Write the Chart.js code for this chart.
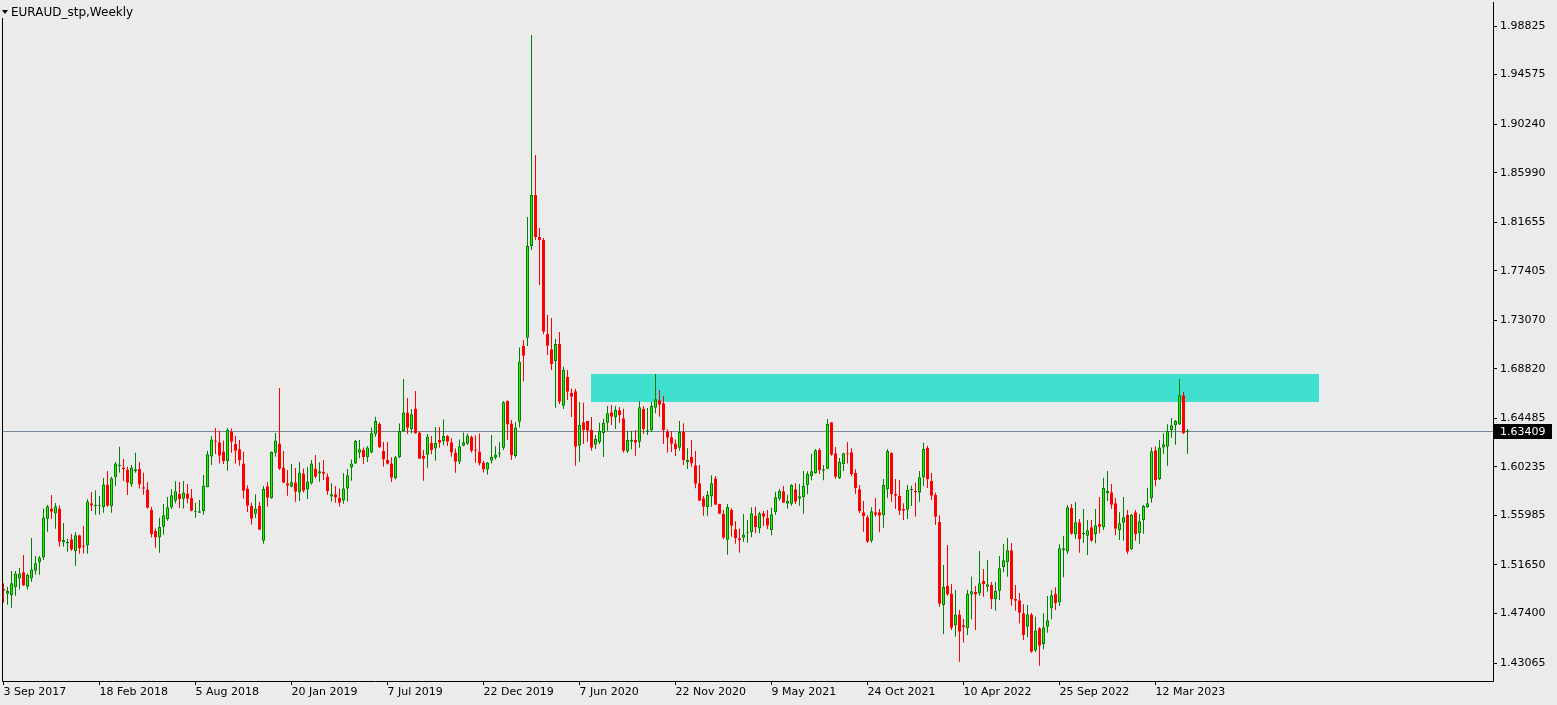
<!DOCTYPE html>
<html><head><meta charset="utf-8">
<script src="https://cdn.jsdelivr.net/npm/chart.js@4.4.0/dist/chart.umd.min.js"></script>
<style>html,body{margin:0;padding:0;background:#ebebeb;overflow:hidden}canvas{display:block}</style>
</head><body>
<canvas id="c" width="1557" height="705" style="width:1557px;height:705px"></canvas>
<script>
const chartTitle = 'EURAUD_stp,Weekly';
const open = [
1.4954,1.4913,1.4899,1.4969,1.5047,1.5100,1.4974,1.5047,1.5114,1.5187,
1.5231,1.5570,1.5660,1.5616,1.5660,1.5363,1.5354,1.5389,1.5284,1.5424,
1.5336,1.5336,1.5704,1.5681,1.5684,1.5669,1.5870,1.5678,1.5932,1.6031,
1.6019,1.5996,1.5870,1.5984,1.6005,1.5844,1.5826,1.5646,1.5462,1.5406,
1.5500,1.5564,1.5669,1.5727,1.5786,1.5745,1.5791,1.5751,1.5631,1.5622,
1.5637,1.5844,1.6115,1.6255,1.6238,1.6159,1.6072,1.6328,1.6223,1.6177,
1.6054,1.5835,1.5680,1.5613,1.5680,1.5377,1.5853,1.5748,1.6147,1.6229,
1.6019,1.5879,1.5850,1.5888,1.5800,1.5966,1.5826,1.5879,1.6010,1.5966,
1.5978,1.5940,1.5765,1.5783,1.5750,1.5730,1.5835,1.6019,1.6054,1.6147,
1.6171,1.6107,1.6150,1.6308,1.6398,1.6162,1.6083,1.6054,1.5923,1.6107,
1.6337,1.6500,1.6352,1.6535,1.6325,1.6118,1.6130,1.6235,1.6185,1.6258,
1.6247,1.6293,1.6238,1.6150,1.6068,1.6208,1.6226,1.6284,1.6176,1.6159,
1.6062,1.6001,1.6080,1.6103,1.6138,1.6191,1.6599,1.6404,1.6118,1.6418,
1.7081,1.7154,1.7957,1.8403,1.8035,1.8009,1.7186,1.7052,1.6950,1.7099,
1.6559,1.6810,1.6670,1.6685,1.6208,1.6413,1.6425,1.6346,1.6217,1.6241,
1.6320,1.6410,1.6501,1.6457,1.6518,1.6448,1.6159,1.6243,1.6258,1.6243,
1.6530,1.6331,1.6346,1.6541,1.6606,1.6580,1.6331,1.6282,1.6229,1.6191,
1.6328,1.6066,1.6110,1.6037,1.5879,1.5748,1.5673,1.5766,1.5921,1.5698,
1.5611,1.5386,1.5646,1.5477,1.5398,1.5403,1.5442,1.5454,1.5594,1.5485,
1.5617,1.5576,1.5471,1.5626,1.5745,1.5809,1.5701,1.5701,1.5827,1.5745,
1.5758,1.5862,1.5941,1.5967,1.6171,1.5990,1.6007,1.6413,1.6142,1.5923,
1.6049,1.6145,1.6151,1.5970,1.5827,1.5626,1.5582,1.5377,1.5626,1.5626,
1.5599,1.5827,1.6145,1.5786,1.5768,1.5655,1.5649,1.5818,1.5812,1.5797,
1.5933,1.6189,1.5899,1.5777,1.5541,1.4811,1.4983,1.4916,1.4636,1.4732,
1.4636,1.4610,1.4907,1.4928,1.4916,1.5024,1.4974,1.4989,1.4864,1.4939,
1.5144,1.5188,1.5293,1.4867,1.4855,1.4741,1.4624,1.4732,1.4417,1.4610,
1.4473,1.4624,1.4785,1.4910,1.4838,1.5293,1.5282,1.5663,1.5433,1.5538,
1.5433,1.5421,1.5495,1.5435,1.5523,1.5495,1.5792,1.5801,1.5704,1.5468,
1.5534,1.5602,1.5302,1.5626,1.5442,1.5556,1.5669,1.5748,1.6170,1.5915,
1.6194,1.6200,1.6346,1.6387,1.6394,1.6650,1.6326];
const high = [
1.5004,1.4974,1.5112,1.5112,1.5138,1.5252,1.5091,1.5400,1.5243,1.5243,
1.5660,1.5689,1.5777,1.5707,1.5686,1.5532,1.5395,1.5435,1.5453,1.5430,
1.5506,1.5739,1.5803,1.5818,1.5768,1.5926,1.5987,1.5937,1.6066,1.6200,
1.6092,1.6025,1.6040,1.6147,1.6066,1.5972,1.5891,1.5672,1.5485,1.5578,
1.5698,1.5759,1.5829,1.5897,1.5891,1.5899,1.5873,1.5829,1.5710,1.5733,
1.5952,1.6165,1.6293,1.6363,1.6340,1.6255,1.6363,1.6360,1.6293,1.6258,
1.6156,1.5861,1.5710,1.5783,1.5716,1.5856,1.5891,1.6159,1.6319,1.6713,
1.6162,1.5996,1.6048,1.6013,1.6066,1.6010,1.6022,1.6083,1.6127,1.6063,
1.6083,1.5966,1.5879,1.5856,1.5835,1.5967,1.6004,1.6089,1.6258,1.6258,
1.6194,1.6206,1.6369,1.6463,1.6413,1.6241,1.6241,1.6107,1.6118,1.6404,
1.6792,1.6626,1.6527,1.6687,1.6331,1.6171,1.6311,1.6293,1.6372,1.6372,
1.6439,1.6302,1.6273,1.6185,1.6264,1.6325,1.6316,1.6299,1.6299,1.6316,
1.6077,1.6065,1.6302,1.6205,1.6240,1.6599,1.6605,1.6433,1.6416,1.7069,
1.7133,1.8210,1.9804,1.8753,1.8114,1.8027,1.7353,1.7326,1.7143,1.7204,
1.6900,1.6871,1.6707,1.6707,1.6591,1.6585,1.6425,1.6460,1.6302,1.6410,
1.6445,1.6556,1.6565,1.6556,1.6547,1.6532,1.6340,1.6340,1.6346,1.6600,
1.6556,1.6538,1.6594,1.6836,1.6696,1.6644,1.6352,1.6337,1.6264,1.6425,
1.6405,1.6186,1.6258,1.6162,1.6040,1.5768,1.5812,1.5949,1.5943,1.5700,
1.5646,1.5698,1.5661,1.5547,1.5485,1.5611,1.5558,1.5670,1.5675,1.5631,
1.5637,1.5646,1.5666,1.5806,1.5827,1.5856,1.5779,1.5871,1.5879,1.5873,
1.5987,1.5984,1.6138,1.6179,1.6186,1.6040,1.6442,1.6413,1.6197,1.6100,
1.6147,1.6241,1.6186,1.6002,1.5864,1.5724,1.5602,1.5670,1.5751,1.5654,
1.5917,1.6180,1.6151,1.5917,1.5908,1.5704,1.5864,1.5858,1.5885,1.5987,
1.6235,1.6209,1.5972,1.5797,1.5599,1.5164,1.5339,1.4998,1.4945,1.4770,
1.4691,1.4945,1.5062,1.4980,1.5287,1.5129,1.5208,1.5015,1.5015,1.5243,
1.5348,1.5400,1.5357,1.4989,1.4919,1.4820,1.4814,1.4744,1.4712,1.4619,
1.4741,1.4893,1.4945,1.4969,1.5345,1.5418,1.5689,1.5698,1.5716,1.5567,
1.5655,1.5558,1.5558,1.5655,1.5759,1.5929,1.5987,1.5873,1.5751,1.5626,
1.5759,1.5646,1.5611,1.5646,1.5611,1.5689,1.5841,1.6194,1.6203,1.6258,
1.6317,1.6396,1.6451,1.6433,1.6792,1.6679,1.6355];
const low = [
1.4834,1.4817,1.4790,1.4896,1.4951,1.4983,1.4951,1.5018,1.5082,1.5079,
1.5208,1.5456,1.5567,1.5482,1.5325,1.5325,1.5281,1.5287,1.5158,1.5263,
1.5266,1.5263,1.5637,1.5605,1.5605,1.5622,1.5675,1.5622,1.5856,1.5975,
1.5899,1.5777,1.5850,1.5972,1.5835,1.5780,1.5657,1.5406,1.5316,1.5272,
1.5430,1.5552,1.5654,1.5704,1.5663,1.5660,1.5704,1.5634,1.5578,1.5619,
1.5605,1.5844,1.6040,1.6136,1.6054,1.6048,1.5990,1.6147,1.6054,1.6034,
1.5745,1.5628,1.5517,1.5575,1.5470,1.5351,1.5675,1.5745,1.6112,1.5996,
1.5882,1.5771,1.5844,1.5718,1.5724,1.5800,1.5742,1.5870,1.5923,1.5894,
1.5908,1.5780,1.5718,1.5710,1.5675,1.5700,1.5720,1.5902,1.6048,1.6098,
1.6048,1.6066,1.6142,1.6287,1.6191,1.6025,1.6045,1.5891,1.5914,1.6098,
1.6331,1.6311,1.6317,1.6314,1.6092,1.5902,1.6016,1.6133,1.6077,1.6191,
1.6212,1.6206,1.6112,1.5972,1.6048,1.6205,1.6214,1.6147,1.6060,1.6036,
1.5975,1.5957,1.6054,1.6089,1.6106,1.6171,1.6258,1.6083,1.6103,1.6369,
1.6774,1.7081,1.7922,1.8009,1.7615,1.7184,1.7002,1.6871,1.6541,1.6573,
1.6530,1.6609,1.6460,1.6033,1.6068,1.6223,1.6243,1.6165,1.6180,1.6223,
1.6110,1.6340,1.6390,1.6355,1.6410,1.6147,1.6145,1.6177,1.6121,1.6191,
1.6311,1.6302,1.6328,1.6492,1.6462,1.6223,1.6147,1.6153,1.6118,1.6165,
1.6040,1.6005,1.6025,1.5836,1.5724,1.5596,1.5596,1.5674,1.5690,1.5611,
1.5392,1.5254,1.5412,1.5350,1.5272,1.5368,1.5359,1.5407,1.5442,1.5442,
1.5505,1.5477,1.5424,1.5605,1.5730,1.5707,1.5657,1.5683,1.5698,1.5683,
1.5613,1.5783,1.5906,1.5964,1.5962,1.5906,1.6002,1.6121,1.5920,1.5918,
1.5987,1.6052,1.5941,1.5787,1.5617,1.5456,1.5359,1.5359,1.5587,1.5451,
1.5491,1.5753,1.5718,1.5655,1.5602,1.5558,1.5567,1.5680,1.5587,1.5718,
1.5853,1.5839,1.5733,1.5514,1.4799,1.4561,1.4895,1.4595,1.4536,1.4318,
1.4484,1.4551,1.4689,1.4595,1.4895,1.4887,1.4930,1.4779,1.4764,1.4858,
1.5100,1.5062,1.4808,1.4764,1.4654,1.4508,1.4531,1.4397,1.4400,1.4283,
1.4426,1.4572,1.4689,1.4770,1.4805,1.5057,1.5261,1.5429,1.5392,1.5272,
1.5357,1.5252,1.5368,1.5354,1.5442,1.5471,1.5724,1.5657,1.5424,1.5383,
1.5377,1.5258,1.5296,1.5377,1.5350,1.5438,1.5663,1.5710,1.5853,1.5908,
1.6136,1.6033,1.6279,1.6217,1.6390,1.6311,1.6139];
const close = [
1.4939,1.4936,1.5004,1.5091,1.5091,1.4986,1.5076,1.5126,1.5179,1.5231,
1.5581,1.5678,1.5631,1.5678,1.5368,1.5383,1.5365,1.5301,1.5424,1.5310,
1.5325,1.5721,1.5686,1.5686,1.5689,1.5870,1.5684,1.5923,1.6054,1.6039,
1.6002,1.5885,1.6019,1.6002,1.5870,1.5832,1.5666,1.5433,1.5406,1.5497,
1.5599,1.5669,1.5774,1.5809,1.5739,1.5800,1.5745,1.5640,1.5637,1.5634,
1.5861,1.6133,1.6264,1.6244,1.6121,1.6072,1.6346,1.6244,1.6165,1.6083,
1.5815,1.5683,1.5570,1.5660,1.5473,1.5829,1.5754,1.6153,1.6255,1.6007,
1.5885,1.5858,1.5888,1.5806,1.5975,1.5815,1.5896,1.6054,1.5937,1.5984,
1.5964,1.5809,1.5783,1.5756,1.5710,1.5835,1.5949,1.6054,1.6250,1.6177,
1.6107,1.6194,1.6317,1.6425,1.6194,1.6089,1.6051,1.5929,1.6107,1.6337,
1.6500,1.6366,1.6483,1.6317,1.6095,1.6095,1.6290,1.6171,1.6232,1.6235,
1.6293,1.6244,1.6150,1.6068,1.6205,1.6238,1.6299,1.6165,1.6165,1.6054,
1.6001,1.6060,1.6112,1.6132,1.6150,1.6588,1.6395,1.6127,1.6369,1.6944,
1.6996,1.7956,1.8403,1.8035,1.8009,1.7206,1.7084,1.6921,1.7099,1.6594,
1.6871,1.6681,1.6637,1.6200,1.6390,1.6346,1.6340,1.6191,1.6267,1.6337,
1.6407,1.6492,1.6462,1.6521,1.6475,1.6165,1.6258,1.6264,1.6235,1.6545,
1.6355,1.6343,1.6556,1.6615,1.6567,1.6346,1.6278,1.6226,1.6180,1.6328,
1.6081,1.6086,1.6054,1.5876,1.5727,1.5674,1.5778,1.5879,1.5692,1.5613,
1.5403,1.5672,1.5508,1.5398,1.5380,1.5432,1.5446,1.5617,1.5495,1.5617,
1.5587,1.5508,1.5608,1.5757,1.5812,1.5709,1.5724,1.5865,1.5718,1.5766,
1.5855,1.5961,1.5984,1.6170,1.5993,1.6002,1.6398,1.6130,1.5937,1.6065,
1.6142,1.6139,1.5958,1.5839,1.5635,1.5591,1.5368,1.5634,1.5605,1.5596,
1.5865,1.6162,1.5783,1.5771,1.5640,1.5640,1.5821,1.5830,1.5803,1.5933,
1.6180,1.5915,1.5771,1.5587,1.4825,1.4972,1.4907,1.4615,1.4732,1.4580,
1.4619,1.4910,1.4934,1.4907,1.5004,1.4995,1.4995,1.4867,1.4937,1.5135,
1.5205,1.5293,1.4864,1.4852,1.4746,1.4551,1.4732,1.4405,1.4592,1.4458,
1.4619,1.4680,1.4899,1.4829,1.5310,1.5310,1.5669,1.5438,1.5538,1.5389,
1.5444,1.5468,1.5377,1.5512,1.5500,1.5838,1.5812,1.5692,1.5482,1.5529,
1.5582,1.5281,1.5602,1.5433,1.5547,1.5681,1.5704,1.6160,1.5907,1.6194,
1.6221,1.6337,1.6387,1.6425,1.6650,1.6317,1.6341];

// bar index of each date label (weekly bars, one label every 24 weeks)
const dateTickIndex = [0,24,48,72,96,120,144,168,192,216,240,264,288];
const dateTickLabels = ['3 Sep 2017','18 Feb 2018','5 Aug 2018','20 Jan 2019','7 Jul 2019','22 Dec 2019','7 Jun 2020','22 Nov 2020','9 May 2021','24 Oct 2021','10 Apr 2022','25 Sep 2022','12 Mar 2023'];
const priceTicks = [1.98825,1.94575,1.90240,1.85990,1.81655,1.77405,1.73070,1.68820,1.64485,1.60235,1.55985,1.51650,1.47400,1.43065];
const lastPrice = 1.63409;
const zoneBars = [146.9, 328.9];
const zonePrices = [1.6594, 1.6836];

const BULL_FILL = '#33ee00', BULL_LINE = '#008000', BEAR = '#ff0000';
const idx = open.map((_, i) => i);
const up = idx.map(i => close[i] >= open[i]);

const mt4Plugin = {
  id: 'mt4',
  beforeDraw(chart) {
    const c = chart.ctx;
    c.save(); c.fillStyle = '#ebebeb'; c.fillRect(0, 0, chart.width, chart.height); c.restore();
  },
  beforeDatasetsDraw(chart) {
    const c = chart.ctx, xs = chart.scales.x, ys = chart.scales.y, a = chart.chartArea;
    c.save();
    const x0 = Math.round(xs.getPixelForValue(zoneBars[0])), x1 = Math.round(xs.getPixelForValue(zoneBars[1]));
    const y0 = Math.round(ys.getPixelForValue(zonePrices[1])), y1 = Math.round(ys.getPixelForValue(zonePrices[0]));
    c.fillStyle = '#40e0d0';
    c.fillRect(x0, y0, x1 - x0, y1 - y0);
    const py = Math.round(ys.getPixelForValue(lastPrice)) + 0.5;
    c.strokeStyle = '#778899'; c.lineWidth = 1;
    c.beginPath(); c.moveTo(a.left, py); c.lineTo(a.right, py); c.stroke();
    c.restore();
  },
  afterDraw(chart) {
    const c = chart.ctx, ys = chart.scales.y, a = chart.chartArea;
    c.save();
    c.strokeStyle = '#000'; c.lineWidth = 1;
    c.beginPath();
    c.moveTo(a.left - 0.5, 18); c.lineTo(a.left - 0.5, a.bottom + 0.5);
    c.lineTo(a.right + 0.5, a.bottom + 0.5); c.lineTo(a.right + 0.5, 2);
    c.stroke();
    const py = Math.round(ys.getPixelForValue(lastPrice));
    c.fillStyle = '#000';
    c.fillRect(a.right + 1, py - 7, 58, 15);
    c.fillStyle = '#fff';
    c.font = '11px "DejaVu Sans"';
    c.textBaseline = 'middle'; c.textAlign = 'left';
    c.fillText(lastPrice.toFixed(5), a.right + 7, py + 1);
    // title
    c.fillStyle = '#000';
    c.beginPath(); c.moveTo(2, 10); c.lineTo(8, 10); c.lineTo(5, 14); c.closePath(); c.fill();
    c.font = '12px "DejaVu Sans"';
    c.fillText(chartTitle, 11, 13);
    c.restore();
  }
};

Chart.defaults.font.family = '"DejaVu Sans"';
new Chart(document.getElementById('c'), {
  type: 'bar',
  data: {
    datasets: [
      {
        label: 'wick',
        data: idx.map(i => ({ x: i, y: [low[i], high[i]] })),
        backgroundColor: idx.map(i => up[i] ? BULL_LINE : BEAR),
        borderWidth: 0, barThickness: 1, grouped: false, inflateAmount: 0, order: 2
      },
      {
        label: 'body',
        data: idx.map(i => ({ x: i, y: [open[i], close[i]] })),
        backgroundColor: idx.map(i => up[i] ? BULL_FILL : BEAR),
        borderColor: idx.map(i => up[i] ? BULL_LINE : BEAR),
        borderWidth: 1, borderSkipped: false, barThickness: 3, minBarLength: 1,
        grouped: false, inflateAmount: 0, order: 1
      }
    ]
  },
  options: {
    responsive: false, animation: false, devicePixelRatio: 1, events: [],
    layout: { padding: { left: 3, top: 3, right: 0, bottom: 0 } },
    plugins: { legend: { display: false }, tooltip: { enabled: false } },
    scales: {
      x: {
        type: 'linear', min: -0.125, max: 372.375, offset: false, position: 'bottom',
        grid: { display: true, offset: false, drawOnChartArea: false, drawTicks: true, tickLength: 4, color: '#000' },
        border: { display: false },
        afterBuildTicks: s => { s.ticks = dateTickIndex.map(v => ({ value: v })); },
        ticks: {
          autoSkip: false, maxRotation: 0, minRotation: 0, align: 'start', padding: 1,
          color: '#000', font: { size: 11 },
          callback: (v, i) => dateTickLabels[i]
        },
        afterFit: s => { s.height = 24; s.paddingLeft = 0; s.paddingRight = 0; }
      },
      y: {
        type: 'linear', position: 'right', min: 1.4149, max: 2.0084,
        grid: { drawOnChartArea: false, drawTicks: true, tickLength: 4, color: '#000' },
        border: { display: false },
        afterBuildTicks: s => { s.ticks = priceTicks.map(v => ({ value: v })); },
        ticks: {
          autoSkip: false, padding: 3, color: '#000', font: { size: 11 },
          callback: v => Number(v).toFixed(5)
        },
        afterFit: s => { s.width = 64; s.paddingTop = 0; s.paddingBottom = 0; }
      }
    }
  },
  plugins: [mt4Plugin]
});
</script>
</body></html>
